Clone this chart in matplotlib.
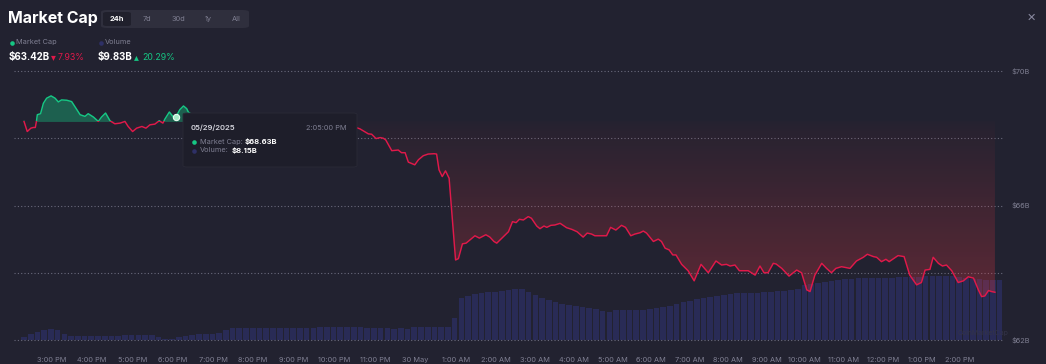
import numpy as np
import matplotlib
matplotlib.use("Agg")
import matplotlib.pyplot as plt
from matplotlib.colors import LinearSegmentedColormap
from matplotlib.patches import Rectangle, FancyBboxPatch
from matplotlib.lines import Line2D

plt.rcParams['font.family'] = ['Inter', 'DejaVu Sans']

# market cap (billions USD) vs hours since start of the 24h window
mc_hours = [0.00, 0.08, 0.17, 0.23, 0.28, 0.31, 0.33, 0.41, 0.48, 0.56, 0.67, 0.77, 0.85, 0.93,
            1.06, 1.18, 1.26, 1.39, 1.51, 1.59, 1.72, 1.84, 1.92, 2.02, 2.13, 2.25, 2.38, 2.50,
            2.58, 2.69, 2.79, 2.92, 3.02, 3.12, 3.24, 3.35, 3.44, 3.49, 3.60, 3.70, 3.76, 3.86,
            3.95, 4.03, 4.07, 4.20, 4.50, 4.80, 5.10, 5.40, 5.70, 6.00, 6.30, 6.60, 6.90, 7.20,
            7.50, 7.80, 8.05, 8.20, 8.32, 8.53, 8.61, 8.72, 8.82, 8.90, 8.96, 9.11, 9.27, 9.35,
            9.44, 9.52, 9.68, 9.77, 9.89, 10.01, 10.16, 10.22, 10.28, 10.36, 10.44, 10.53, 10.69,
            10.76, 10.86, 10.95, 11.05, 11.17, 11.28, 11.44, 11.54, 11.64, 11.71, 11.87, 12.00,
            12.10, 12.19, 12.27, 12.37, 12.49, 12.57, 12.70, 12.78, 12.88, 12.95, 13.05, 13.15,
            13.28, 13.44, 13.57, 13.70, 13.85, 13.95, 14.06, 14.14, 14.27, 14.43, 14.53, 14.66,
            14.80, 14.90, 15.03, 15.13, 15.26, 15.34, 15.42, 15.59, 15.71, 15.79, 15.88, 15.98,
            16.07, 16.15, 16.29, 16.45, 16.60, 16.77, 16.95, 17.14, 17.28, 17.40, 17.49, 17.61,
            17.72, 17.86, 17.94, 18.11, 18.23, 18.33, 18.43, 18.56, 18.63, 18.77, 18.95, 19.14,
            19.26, 19.39, 19.47, 19.59, 19.76, 19.88, 20.00, 20.11, 20.25, 20.46, 20.62, 20.79,
            20.89, 21.04, 21.12, 21.24, 21.35, 21.43, 21.55, 21.65, 21.80, 21.94, 22.11, 22.23,
            22.32, 22.44, 22.52, 22.65, 22.75, 22.85, 22.98, 23.14, 23.27, 23.39, 23.52, 23.64,
            23.72, 23.80, 23.89, 23.97, 24.05]
mc_values = [68.50, 68.20, 68.30, 68.32, 68.32, 68.52, 68.70, 68.73, 69.04, 69.19, 69.26, 69.19,
             69.08, 69.14, 69.13, 69.09, 68.94, 68.70, 68.65, 68.73, 68.63, 68.50, 68.63, 68.75,
             68.52, 68.43, 68.45, 68.50, 68.35, 68.20, 68.30, 68.35, 68.30, 68.40, 68.42, 68.52,
             68.45, 68.57, 68.78, 68.63, 68.63, 68.85, 68.96, 68.88, 68.78, 68.66, 68.55, 68.47,
             68.40, 68.44, 68.36, 68.30, 68.34, 68.41, 68.37, 68.31, 68.27, 68.33, 68.36, 68.33,
             68.28, 68.13, 68.12, 67.99, 68.02, 68.00, 67.95, 67.63, 67.65, 67.57, 67.57, 67.29,
             67.21, 67.36, 67.48, 67.53, 67.54, 67.53, 67.06, 66.86, 67.03, 66.81, 64.38, 64.42,
             64.86, 64.88, 64.98, 65.10, 65.03, 65.13, 65.06, 64.93, 64.88, 65.07, 65.22, 65.52,
             65.49, 65.59, 65.57, 65.67, 65.62, 65.39, 65.31, 65.39, 65.35, 65.41, 65.42, 65.47,
             65.34, 65.29, 65.22, 65.06, 65.18, 65.15, 65.10, 65.10, 65.10, 65.35, 65.27, 65.41,
             65.35, 65.10, 65.15, 65.19, 65.24, 65.18, 64.93, 65.00, 64.93, 64.73, 64.68, 64.53,
             64.53, 64.25, 64.06, 63.76, 64.25, 64.00, 64.35, 64.23, 64.25, 64.20, 64.23, 64.06,
             64.06, 64.06, 63.93, 64.20, 64.00, 64.00, 64.28, 64.26, 64.13, 63.90, 64.08, 64.00,
             63.49, 63.44, 63.93, 64.28, 64.13, 64.00, 64.13, 64.18, 64.13, 64.35, 64.46, 64.55,
             64.48, 64.46, 64.33, 64.40, 64.33, 64.43, 64.51, 64.48, 63.93, 63.64, 63.71, 64.08,
             64.10, 64.46, 64.28, 64.20, 64.23, 64.06, 63.71, 63.76, 63.88, 63.84, 63.49, 63.29,
             63.31, 63.47, 63.44, 63.42]

# 24h volume (billions USD), one value every 10 minutes
volume = [8.20, 8.29, 8.34, 8.40, 8.43, 8.40, 8.29, 8.23, 8.23, 8.22, 8.23, 8.24, 8.23, 8.23,
          8.24, 8.25, 8.25, 8.26, 8.26, 8.26, 8.20, 8.15, 8.15, 8.20, 8.23, 8.26, 8.29, 8.29,
          8.29, 8.32, 8.40, 8.46, 8.46, 8.45, 8.46, 8.47, 8.46, 8.46, 8.45, 8.46, 8.47, 8.46,
          8.46, 8.47, 8.48, 8.48, 8.49, 8.48, 8.48, 8.49, 8.48, 8.47, 8.46, 8.46, 8.46, 8.44,
          8.46, 8.43, 8.48, 8.48, 8.48, 8.49, 8.48, 8.48, 8.74, 9.30, 9.35, 9.41, 9.44, 9.46,
          9.46, 9.49, 9.52, 9.55, 9.55, 9.46, 9.38, 9.30, 9.24, 9.18, 9.13, 9.10, 9.07, 9.04,
          9.02, 8.99, 8.93, 8.90, 8.96, 8.96, 8.96, 8.96, 8.97, 8.99, 9.02, 9.04, 9.07, 9.13,
          9.18, 9.21, 9.27, 9.30, 9.32, 9.35, 9.38, 9.41, 9.43, 9.43, 9.44, 9.45, 9.46, 9.47,
          9.48, 9.49, 9.52, 9.55, 9.66, 9.70, 9.72, 9.74, 9.78, 9.81, 9.83, 9.84, 9.85, 9.86,
          9.86, 9.86, 9.86, 9.87, 9.88, 9.88, 9.88, 9.89, 9.91, 9.91, 9.91, 9.91, 9.91, 9.88,
          9.86, 9.83, 9.83, 9.80, 9.80, 9.80, 9.80]

tick_hours = [0.686, 1.684, 2.687, 3.678, 4.681, 5.672, 6.687, 7.678, 8.693, 9.684, 10.70, 11.69,
              12.66, 13.62, 14.58, 15.53, 16.48, 17.44, 18.40, 19.34, 20.31, 21.28, 22.23, 23.18]
tick_labels = ['3:00 PM', '4:00 PM', '5:00 PM', '6:00 PM', '7:00 PM', '8:00 PM', '9:00 PM',
               '10:00 PM', '11:00 PM', '30 May', '1:00 AM', '2:00 AM', '3:00 AM', '4:00 AM',
               '5:00 AM', '6:00 AM', '7:00 AM', '8:00 AM', '9:00 AM', '10:00 AM', '11:00 AM',
               '12:00 PM', '1:00 PM', '2:00 PM']
grid_levels = [62, 64, 66, 68, 70]
y_labels = {70: '$70B', 66: '$66B', 62: '$62B'}

BG = '#222230'
RED = '#e0194a'
GREEN = '#16c784'
NAVY = '#2e3066'
GRAY = '#7f7f92'
W, H = 1046, 364

def fx(px):
    return px / W

def fy(py):
    return 1 - py / H

def dot(px, py, color, z=3):
    fig.add_artist(Line2D([fx(px)], [fy(py)], marker='o', ms=3.3, color=color, mec='none',
                          transform=fig.transFigure, zorder=z))

fig = plt.figure(figsize=(W / 100, H / 100), dpi=100, facecolor=BG)

pos = [fx(14), fy(340), (1003 - 14) / W, (340 - 71) / H]
xlim = (-0.248, 24.25)

# volume bars (behind)
axv = fig.add_axes(pos)
axv.set_facecolor(BG)
vol_hours = np.arange(len(volume)) / 6.0
axv.bar(vol_hours, volume, width=0.14, color='#292b56', linewidth=0)
axv.set_xlim(xlim)
axv.set_ylim(8.12, 8.12 + 269 / 35.7)
axv.axis('off')

# market cap line on top
ax = fig.add_axes(pos)
ax.patch.set_visible(False)
ax.set_xlim(xlim)
ax.set_ylim(62, 70)
ax.axis('off')

for g in grid_levels:
    ax.axhline(g, color='#6a6a7c', lw=0.8, ls=(0, (1, 2)), zorder=0.5, clip_on=False)

x = np.array(mc_hours)
y = np.array(mc_values)
base = mc_values[0]

# green fill above baseline
ax.fill_between(x, np.maximum(y, base), base, color=GREEN, alpha=0.38, lw=0, zorder=1)

# red gradient fill below baseline
red_poly = ax.fill_between(x, np.minimum(y, base), base, color='none', lw=0)
cmap = LinearSegmentedColormap.from_list('redgrad', [(0.92, 0.22, 0.26, 0.02), (0.92, 0.22, 0.26, 0.36)])
grad = np.linspace(0, 1, 256).reshape(-1, 1)
im = ax.imshow(grad, extent=[x[0], x[-1], 62, base], origin='upper', aspect='auto', cmap=cmap, zorder=1)
im.set_clip_path(red_poly.get_paths()[0], transform=ax.transData)
ax.set_xlim(xlim)
ax.set_ylim(62, 70)

# line: green above baseline, red below
l_up, = ax.plot(x, y, color=GREEN, lw=1.05, zorder=3)
l_dn, = ax.plot(x, y, color=RED, lw=1.05, zorder=3)
l_up.set_clip_path(Rectangle((xlim[0], base), 30, 10, transform=ax.transData))
l_dn.set_clip_path(Rectangle((xlim[0], base - 10), 30, 10, transform=ax.transData))

# hover point
ax.plot([3.76], [68.63], 'o', ms=4.5, mfc='#a8ecc8', mec='#e8fff2', mew=0.8, zorder=4)

# axis labels
for t, lab in zip(tick_hours, tick_labels):
    ax.text(t, -0.075, lab, transform=ax.get_xaxis_transform(), ha='center', va='center',
            fontsize=5.3, color=GRAY)
for lv, lab in y_labels.items():
    ax.text(fx(1012), lv, lab, transform=ax.get_yaxis_transform().__class__(fig.transFigure, ax.transData),
            ha='left', va='center', fontsize=5.3, color=GRAY)

fig.text(fx(958), fy(333), 'CoinMarketCap', fontsize=5, color='#333348', ha='left', va='center')

# header
fig.text(fx(8), fy(19), 'Market Cap', fontsize=11.5, fontweight='bold', color='white', va='center')
fig.add_artist(FancyBboxPatch((fx(101), fy(28)), fx(148), (28 - 10) / H,
                              boxstyle='round,pad=0,rounding_size=0.006', fc='#2f2f3d', ec='none'))
fig.add_artist(FancyBboxPatch((fx(103), fy(26)), fx(28), (26 - 12) / H,
                              boxstyle='round,pad=0,rounding_size=0.004', fc='#20202c', ec='none'))
for lab, px, col, wt in [('24h', 117, 'white', 'bold'), ('7d', 147, GRAY, 'normal'),
                         ('30d', 178, GRAY, 'normal'), ('1y', 208, GRAY, 'normal'),
                         ('All', 236, GRAY, 'normal')]:
    fig.text(fx(px), fy(19), lab, fontsize=5.3, color=col, fontweight=wt, ha='center', va='center')

dot(12, 42.5, GREEN)
fig.text(fx(16), fy(42), 'Market Cap', fontsize=5.3, color=GRAY, va='center')
dot(101, 42.5, NAVY)
fig.text(fx(105), fy(42), 'Volume', fontsize=5.3, color=GRAY, va='center')

fig.text(fx(9), fy(57), '$63.42B', fontsize=7, fontweight='bold', color='white', va='center')
fig.text(fx(51), fy(57), '\u25be', fontsize=7, color=RED, va='center')
fig.text(fx(58), fy(57), '7.93%', fontsize=6.3, color=RED, va='center')
fig.text(fx(98), fy(57), '$9.83B', fontsize=7, fontweight='bold', color='white', va='center')
fig.text(fx(134), fy(57), '\u25b4', fontsize=7, color=GREEN, va='center')
fig.text(fx(142), fy(57), '20.29%', fontsize=6.3, color=GREEN, va='center')

fig.text(fx(1031), fy(18), '\u2715', fontsize=8, color='#8a8aa0', ha='center', va='center',
         family=['DejaVu Sans'])

# tooltip
fig.add_artist(FancyBboxPatch((fx(183), fy(167)), (357 - 183) / W, (167 - 113) / H,
                              boxstyle='round,pad=0,rounding_size=0.004', fc='#1e1e2a',
                              ec='#2a2a37', lw=0.6, zorder=5))
fig.text(fx(191), fy(128), '05/29/2025', fontsize=5.5, color='#d8d8e0', fontweight='semibold',
         va='center', zorder=6)
fig.text(fx(347), fy(128), '2:05:00 PM', fontsize=5.3, color=GRAY, ha='right', va='center', zorder=6)
dot(194, 142.5, GREEN, 6)
fig.text(fx(200), fy(142), 'Market Cap:', fontsize=5.3, color=GRAY, va='center', zorder=6)
fig.text(fx(245), fy(142), '$68.63B', fontsize=5.5, color='white', fontweight='bold', va='center', zorder=6)
dot(194, 150.5, NAVY, 6)
fig.text(fx(200), fy(150), 'Volume:', fontsize=5.3, color=GRAY, va='center', zorder=6)
fig.text(fx(232), fy(150), '$8.15B', fontsize=5.5, color='white', fontweight='bold', va='center', zorder=6)

fig.savefig('out.png', dpi=100, facecolor=BG)
